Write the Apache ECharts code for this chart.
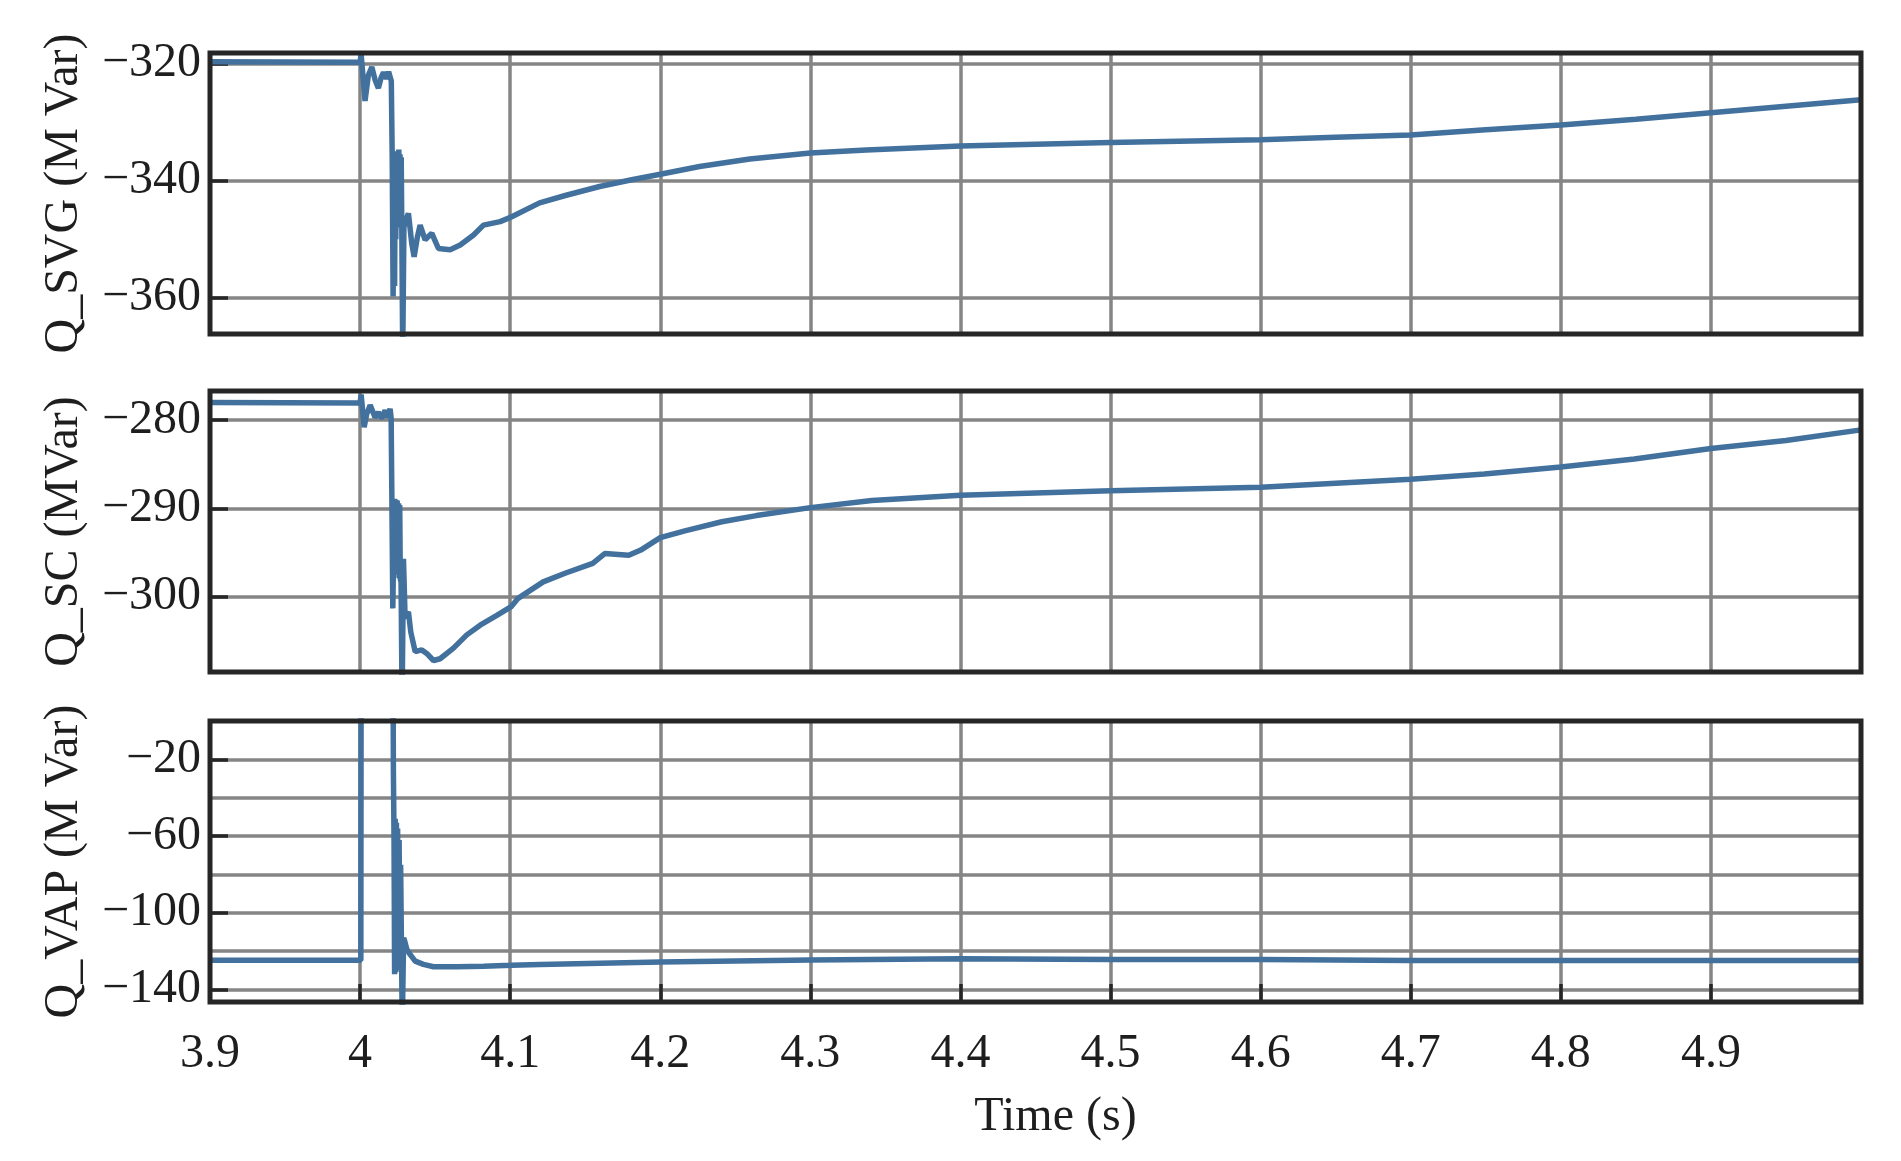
<!DOCTYPE html>
<html>
<head>
<meta charset="utf-8">
<title>Q_SVG / Q_SC / Q_VAP</title>
<script src="https://cdn.jsdelivr.net/npm/echarts@6/dist/echarts.min.js"></script>
<style>
  html, body { margin: 0; padding: 0; background: #fff; }
  #main { width: 1901px; height: 1161px; }
</style>
</head>
<body>
<div id="main"></div>
<script>
// time axis (s)
const timeTicks = [3.9, 4.0, 4.1, 4.2, 4.3, 4.4, 4.5, 4.6, 4.7, 4.8, 4.9]

// Q_SVG (MVar)
const svgTime = [3.9, 3.95, 4.0, 4.0007, 4.0033, 4.0055, 4.0078, 4.0100, 4.0122, 4.0140,
  4.0156, 4.0175, 4.0190, 4.0200, 4.0208, 4.0214, 4.0220, 4.0225, 4.0230, 4.0234,
  4.0238, 4.0242, 4.0246, 4.0250, 4.0254, 4.0258, 4.0262, 4.0266, 4.0270, 4.0274,
  4.0278, 4.0284, 4.0292, 4.0300, 4.0322, 4.0344, 4.0360, 4.0382, 4.0400, 4.0433,
  4.0478, 4.0522, 4.0600, 4.0667, 4.0756, 4.0822, 4.0933, 4.1007, 4.1196, 4.1373,
  4.1596, 4.1818, 4.2000, 4.2262, 4.2596, 4.3000, 4.3373, 4.4000, 4.5000, 4.6000,
  4.6500, 4.7000, 4.7500, 4.8000, 4.8500, 4.9000, 4.9500, 5.0000]
const svgValue = [-319.7, -319.75, -319.8, -318.4, -326.4, -322.0, -320.6, -322.8, -324.2, -322.4,
  -321.5, -322.6, -321.4, -321.6, -323.0, -336.0, -359.8, -338.0, -358.0, -336.0,
  -350.0, -335.0, -348.0, -336.0, -347.0, -334.7, -346.0, -335.5, -347.5, -336.0,
  -348.4, -370.0, -348.0, -347.0, -345.6, -350.7, -353.0, -349.6, -347.6, -350.1,
  -349.0, -351.6, -351.8, -351.0, -349.3, -347.6, -347.0, -346.2, -343.8, -342.5,
  -341.0, -339.8, -338.9, -337.6, -336.3, -335.3, -334.75, -334.1, -333.5, -333.0,
  -332.6, -332.2, -331.3, -330.5, -329.5, -328.4, -327.3, -326.2]
const svgTicks = [-360, -340, -320]

// Q_SC (MVar)
const scTime = [3.9, 4.0, 4.0007, 4.0027, 4.0044, 4.0067, 4.0100, 4.0122, 4.0144, 4.0167,
  4.0184, 4.0200, 4.0207, 4.0211, 4.0218, 4.0229, 4.0234, 4.0238, 4.0243, 4.0247,
  4.0252, 4.0256, 4.0260, 4.0264, 4.0268, 4.0273, 4.0280, 4.0289, 4.0300, 4.0322,
  4.0338, 4.0367, 4.0411, 4.0444, 4.0489, 4.0533, 4.0622, 4.0711, 4.0800, 4.0911,
  4.1007, 4.1050, 4.1220, 4.1370, 4.1550, 4.1630, 4.1790, 4.1870, 4.2000, 4.2170,
  4.2410, 4.2640, 4.3000, 4.3410, 4.4000, 4.5000, 4.6000, 4.7000, 4.7490, 4.8000,
  4.8490, 4.9000, 4.9500, 5.0000]
const scValue = [-278.0, -278.05, -277.1, -280.8, -279.3, -278.3, -279.7, -279.1, -279.8, -278.9,
  -279.7, -278.7, -279.8, -287.4, -301.3, -288.9, -296.5, -289.0, -297.2, -289.1,
  -297.5, -289.4, -297.9, -289.6, -298.0, -298.3, -312.0, -295.7, -302.4, -301.7,
  -304.0, -306.2, -306.0, -306.4, -307.2, -307.0, -305.8, -304.3, -303.2, -302.1,
  -301.1, -300.2, -298.3, -297.3, -296.2, -295.1, -295.3, -294.7, -293.3, -292.5,
  -291.5, -290.8, -289.9, -289.1, -288.5, -288.0, -287.6, -286.7, -286.1, -285.3,
  -284.4, -283.2, -282.3, -281.1]
const scTicks = [-300, -290, -280]

// Q_VAP (MVar)
const vapTime = [3.9, 4.0005, 4.0008, 4.0215, 4.0222, 4.0226, 4.0230, 4.0234, 4.0238, 4.0242,
  4.0246, 4.0250, 4.0255, 4.0260, 4.0265, 4.0270, 4.0276, 4.0281, 4.0290, 4.0300,
  4.0311, 4.0333, 4.0367, 4.0422, 4.0489, 4.0644, 4.0822, 4.1007, 4.1200, 4.2000,
  4.3000, 4.4000, 4.5000, 4.6000, 4.7000, 4.8000, 4.9000, 5.0000]
const vapValue = [-124.7, -124.7, 120, 120, -27, -60, -132, -51, -131, -53,
  -130, -56, -128, -62, -126, -75, -120, -160, -113, -115.5,
  -119, -121.7, -125.2, -126.9, -128.1, -128.1, -127.8, -127.4, -126.9, -125.7,
  -124.6, -124.0, -124.3, -124.3, -124.8, -124.8, -124.8, -124.8]
const vapTicks = [-140, -100, -60, -20]
const vapGridValues = [-140, -120, -100, -80, -60, -40, -20]

const FONT = 'Liberation Serif'
const TEXT_COLOR = '#1e1e1e'
const FRAME_COLOR = '#262626'
const GRID_COLOR = '#858585'
const LINE_COLOR = '#42719e'

const panels = [
  { name: 'Q_SVG (M Var)', min: -366.2, max: -318.2, top: 53, time: svgTime, value: svgValue, labels: svgTicks, grid: svgTicks },
  { name: 'Q_SC (MVar)', min: -308.5, max: -276.7, top: 391, time: scTime, value: scValue, labels: scTicks, grid: scTicks },
  { name: 'Q_VAP (M Var)', min: -146.5, max: 0, top: 721, time: vapTime, value: vapValue, labels: vapTicks, grid: vapGridValues },
]

const minusLabel = (v) => (v < 0 ? '\u2212' : '') + Math.abs(Math.round(v))
const textStyle = { fontFamily: FONT, fontSize: 48, color: TEXT_COLOR }
const tickStyle = { color: FRAME_COLOR, width: 3.5 }

const chart = echarts.init(document.getElementById('main'), null, { renderer: 'canvas' })

const grids = []
const xAxes = []
const yAxes = []
const series = []

panels.forEach((p, i) => {
  const last = i === panels.length - 1
  grids.push({
    left: 210,
    right: 40,
    top: p.top,
    height: 281,
    show: true,
    z: 10, // frame above the curve
    backgroundColor: 'transparent',
    borderColor: FRAME_COLOR,
    borderWidth: 5,
  })
  xAxes.push({
    type: 'value',
    gridIndex: i,
    position: 'bottom',
    min: 3.9,
    max: 5.0,
    axisLine: { show: false, onZero: false },
    axisTick: {
      show: last,
      inside: true,
      length: 18,
      customValues: timeTicks,
      lineStyle: tickStyle,
    },
    axisLabel: {
      show: last,
      customValues: timeTicks,
      margin: 28,
      ...textStyle,
      formatter: (v) => String(Math.round(v * 10) / 10),
    },
    splitLine: { show: true, lineStyle: { color: GRID_COLOR, width: 3.5 } },
    name: last ? 'Time (s)' : '',
    nameLocation: 'middle',
    nameGap: 91,
    nameTextStyle: { ...textStyle, padding: [0, 0, 0, 40] },
  })
  const yIndex = yAxes.length
  yAxes.push({
    type: 'value',
    gridIndex: i,
    min: p.min,
    max: p.max,
    axisLine: { show: false, onZero: false },
    axisTick: {
      show: p.grid === p.labels,
      inside: true,
      length: 18,
      customValues: p.grid,
      lineStyle: tickStyle,
    },
    axisLabel: {
      customValues: p.labels,
      margin: 9,
      ...textStyle,
      formatter: minusLabel,
    },
    splitLine: { show: true, lineStyle: { color: GRID_COLOR, width: 3.5 } },
    name: p.name,
    nameLocation: 'middle',
    nameGap: 122,
    nameTextStyle: textStyle,
  })
  if (p.grid !== p.labels) {
    // tick marks only at the labelled values
    yAxes.push({
      type: 'value',
      gridIndex: i,
      position: 'left',
      min: p.min,
      max: p.max,
      axisLine: { show: false, onZero: false },
      axisLabel: { show: false },
      splitLine: { show: false },
      axisTick: {
        show: true,
        inside: true,
        length: 18,
        customValues: p.labels,
        lineStyle: tickStyle,
      },
    })
  }
  series.push({
    type: 'line',
    xAxisIndex: i,
    yAxisIndex: yIndex,
    data: p.time.map((t, k) => [t, p.value[k]]),
    showSymbol: false,
    clip: true,
    z: 3,
    lineStyle: { color: LINE_COLOR, width: 5.5 },
  })
})

chart.setOption({
  backgroundColor: '#fff',
  animation: false,
  grid: grids,
  xAxis: xAxes,
  yAxis: yAxes,
  series: series,
})
</script>
</body>
</html>
